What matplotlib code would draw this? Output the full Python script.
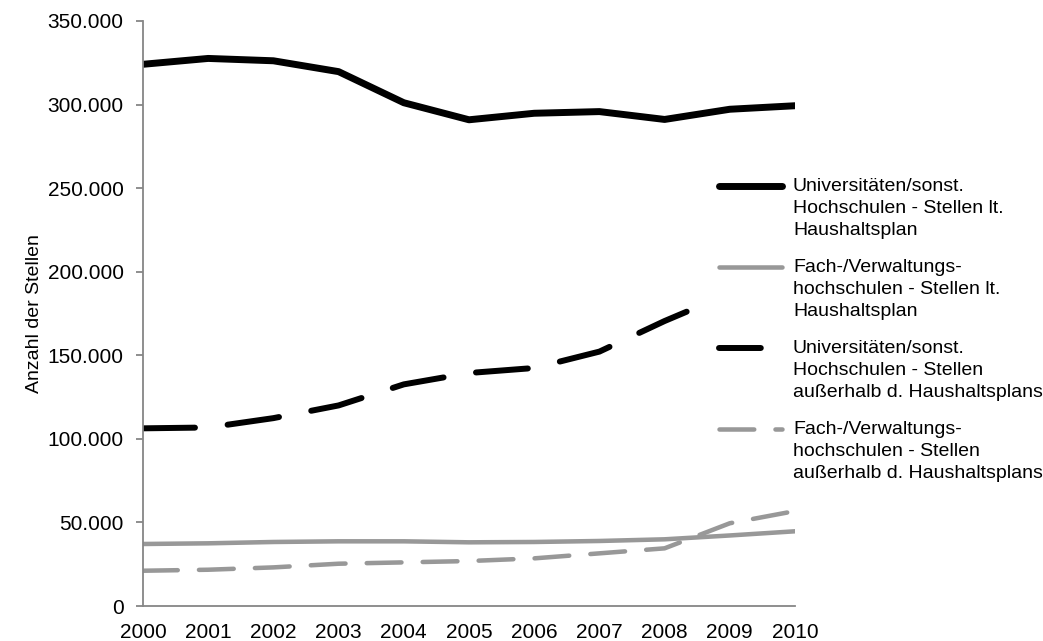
import numpy as np
import matplotlib
matplotlib.use("Agg")
import matplotlib.pyplot as plt
from matplotlib.ticker import FuncFormatter

# Data
years = [2000, 2001, 2002, 2003, 2004, 2005, 2006, 2007, 2008, 2009, 2010]
uni_plan = [324100, 327600, 326200, 319700, 301100, 290900, 294800, 295800, 291100, 297200, 299300]
fh_plan = [37100, 37500, 38300, 38700, 38700, 38100, 38300, 38900, 39900, 42200, 44700]
uni_extra = [106300, 106800, 112400, 120000, 132600, 139400, 142400, 152200, 170500, 187000, 199000]
fh_extra = [21100, 21700, 23100, 25300, 26100, 26900, 28500, 31500, 34500, 49500, 56800]

labels = [
    "Universitäten/sonst.\nHochschulen - Stellen lt.\nHaushaltsplan",
    "Fach-/Verwaltungs-\nhochschulen - Stellen lt.\nHaushaltsplan",
    "Universitäten/sonst.\nHochschulen - Stellen\naußerhalb d. Haushaltsplans",
    "Fach-/Verwaltungs-\nhochschulen - Stellen\naußerhalb d. Haushaltsplans",
]

plt.rcParams['font.family'] = ['Liberation Sans', 'DejaVu Sans']

BLACK = "#000000"
GREY = "#989898"
AXIS = "#868686"

# style per series: (color, linewidth, dashes or None)
styles = [
    (BLACK, 5.0, None),
    (GREY, 3.25, None),
    (BLACK, 4.3, (8.7, 5.5)),
    (GREY, 3.25, (7.7, 4.7)),
]
series = [uni_plan, fh_plan, uni_extra, fh_extra]

W, H = 1043, 641
fig = plt.figure(figsize=(W / 100, H / 100), dpi=100)
ax = fig.add_axes([143 / W, 1 - 606 / H, (795 - 143) / W, (606 - 21) / H])

for vals, (col, lw, dash) in zip(series, styles):
    if dash is None:
        ax.plot(years, vals, color=col, lw=lw, solid_joinstyle='round', solid_capstyle='round')
    else:
        ax.plot(years, vals, color=col, lw=lw, dashes=dash,
                dash_capstyle='round', dash_joinstyle='round')

ax.set_xlim(2000, 2010)
ax.set_ylim(0, 350000)
ax.set_xticks(years)
ax.set_yticks(np.arange(0, 350001, 50000))
ax.yaxis.set_major_formatter(FuncFormatter(lambda v, p: f"{int(v):,}".replace(",", ".")))

for s in ['top', 'right']:
    ax.spines[s].set_visible(False)
for s in ['left', 'bottom']:
    ax.spines[s].set_color(AXIS)
    ax.spines[s].set_linewidth(1.3)

ax.tick_params(axis='y', length=5, width=1.3, color=AXIS, pad=9, labelsize=15)
ax.tick_params(axis='x', length=0, pad=12, labelsize=15)
ax.set_ylabel("Anzahl der Stellen", fontsize=14, labelpad=3)

# Legend drawn by hand: handle sits at the first text line, white box hides lines behind
lx0, lx1, ly0, ly1 = 705, W, 170, 492
lax = fig.add_axes([lx0 / W, 1 - ly1 / H, (lx1 - lx0) / W, (ly1 - ly0) / H])
lax.set_xlim(lx0, lx1)
lax.set_ylim(ly1, ly0)
lax.set_xticks([])
lax.set_yticks([])
for s in lax.spines.values():
    s.set_visible(False)
lax.set_facecolor("white")

entry_y = [186, 267, 348, 429]
for yy, lab, (col, lw, dash) in zip(entry_y, labels, styles):
    if dash is None:
        lax.plot([719, 782], [yy, yy], color=col, lw=lw, solid_capstyle='round')
    else:
        d = (7.0, 5.5) if col == BLACK else dash
        lax.plot([719, 782], [yy, yy], color=col, lw=lw, dashes=d, dash_capstyle='round')
    lax.text(793, yy - 8, lab, fontsize=14, va='top', ha='left', linespacing=1.38)

fig.savefig("out.png", dpi=100)
